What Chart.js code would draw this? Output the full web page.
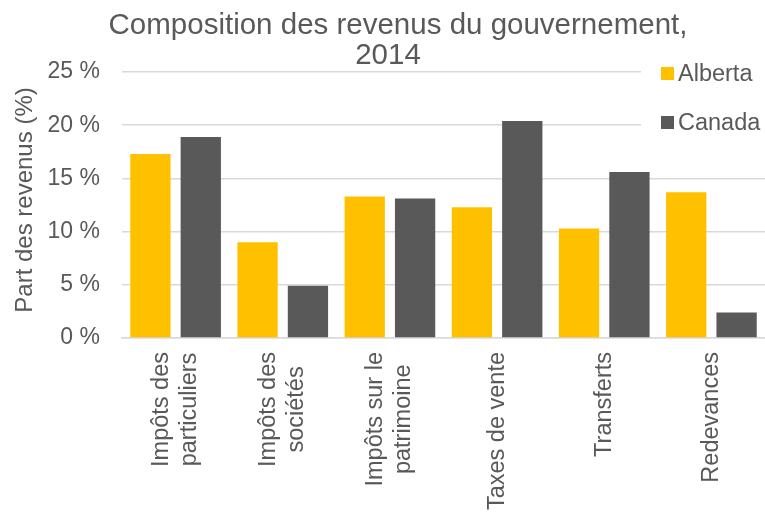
<!DOCTYPE html>
<html>
<head>
<meta charset="utf-8">
<script src="https://cdn.jsdelivr.net/npm/chart.js@4/dist/chart.umd.min.js"></script>
<style>
  html, body { margin: 0; padding: 0; background: #fff; }
  #wrap { width: 765px; height: 513px; }
</style>
</head>
<body>
<div id="wrap"><canvas id="revChart"></canvas></div>
<script>
const categories = [
  ['Impôts des', 'particuliers'],
  ['Impôts des', 'sociétés'],
  ['Impôts sur le', 'patrimoine'],
  ['Taxes de vente'],
  ['Transferts'],
  ['Redevances']
];
const seriesNames = ['Alberta', 'Canada'];
const albertaValues = [17.3, 9.0, 13.3, 12.3, 10.3, 13.7];
const canadaValues = [18.9, 4.9, 13.1, 20.4, 15.6, 2.4];
const yTicks = [0, 5, 10, 15, 20, 25];
const titleLines = ['Composition des revenus du gouvernement,', '2014'];
const yAxisTitle = 'Part des revenus (%)';

const textColor = '#595959';
const colors = ['#FFC000', '#595959'];
const fontFamily = '"Liberation Sans", Arial, sans-serif';

// Title, axis title, category labels and legend drawn by hand
// so they can sit where the original puts them
const overlayPlugin = {
  id: 'overlay',
  afterDraw(chart) {
    const ctx = chart.ctx;
    const xScale = chart.scales.x;
    const area = chart.chartArea;
    ctx.save();
    ctx.fillStyle = textColor;

    // title
    ctx.textAlign = 'center';
    ctx.textBaseline = 'alphabetic';
    ctx.font = '29.5px ' + fontFamily;
    ctx.fillText(titleLines[0], 398, 34);
    ctx.fillText(titleLines[1], 388, 64);

    // y axis title
    ctx.save();
    ctx.translate(32, 200);
    ctx.rotate(-Math.PI / 2);
    ctx.font = '24px ' + fontFamily;
    ctx.fillText(yAxisTitle, 0, 0);
    ctx.restore();

    // category labels, rotated, lines centred on each other
    ctx.font = '23.5px ' + fontFamily;
    ctx.textBaseline = 'middle';
    const lh = 28;
    categories.forEach((lines, i) => {
      const px = xScale.getPixelForValue(i);
      const w = Math.max(...lines.map(l => ctx.measureText(l).width));
      ctx.save();
      ctx.translate(px, area.bottom + 14);
      ctx.rotate(-Math.PI / 2);
      lines.forEach((l, j) => {
        ctx.fillText(l, -w / 2, (j - (lines.length - 1) / 2) * lh);
      });
      ctx.restore();
    });

    // legend
    ctx.fillStyle = '#ffffff';
    ctx.fillRect(641, 55, 124, 85);
    ctx.font = '23.5px ' + fontFamily;
    ctx.textAlign = 'left';
    ctx.textBaseline = 'alphabetic';
    seriesNames.forEach((name, i) => {
      const base = 81 + i * 49;
      ctx.fillStyle = colors[i];
      ctx.fillRect(661, base - 14, 13, 13);
      ctx.fillStyle = textColor;
      ctx.fillText(name, 678, base);
    });
    ctx.restore();
  }
};

new Chart(document.getElementById('revChart').getContext('2d'), {
  type: 'bar',
  data: {
    labels: categories,
    datasets: [
      { label: seriesNames[0], data: albertaValues, backgroundColor: colors[0] },
      { label: seriesNames[1], data: canadaValues, backgroundColor: colors[1] }
    ]
  },
  options: {
    responsive: true,
    maintainAspectRatio: false,
    animation: false,
    categoryPercentage: 0.94,
    barPercentage: 0.8,
    layout: { padding: { top: 72, right: 0, left: 0, bottom: 0 } },
    plugins: {
      legend: { display: false },
      title: { display: false },
      tooltip: { enabled: false }
    },
    scales: {
      y: {
        min: 0,
        max: 25,
        afterBuildTicks: (s) => { s.ticks = yTicks.map(v => ({ value: v })); },
        afterFit: (s) => { s.width = 122; },
        border: { display: false },
        grid: { color: '#d9d9d9', lineWidth: 1.5, drawTicks: false },
        ticks: {
          color: textColor,
          padding: 22,
          font: { family: fontFamily, size: 23 },
          callback: (v) => v + '\u00a0%'
        }
      },
      x: {
        afterFit: (s) => { s.height = 175; },
        border: { color: '#d9d9d9', width: 1.5 },
        grid: { display: false },
        ticks: { display: false }
      }
    }
  },
  plugins: [overlayPlugin]
});
</script>
</body>
</html>
